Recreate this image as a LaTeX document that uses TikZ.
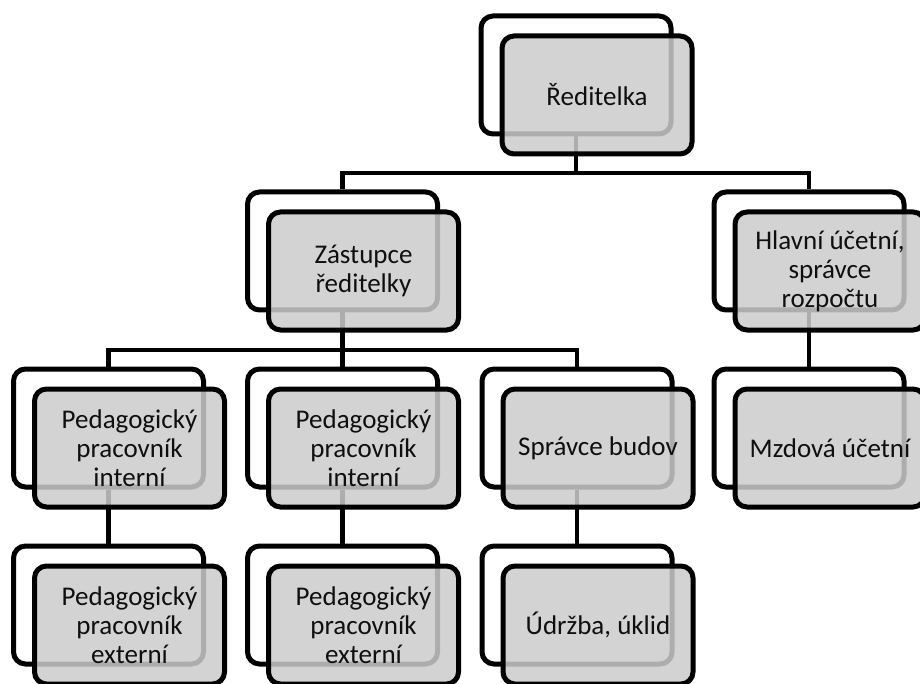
\documentclass[tikz,border=0pt]{standalone}
\usepackage{fontspec}
\setmainfont{Carlito}
\definecolor{frontfill}{RGB}{204,204,204}
\definecolor{txt}{RGB}{15,15,15}
\begin{document}
\begin{tikzpicture}[x=1pt,y=-1pt,
  back/.style={draw=black, line width=5pt, rounded corners=12pt, fill=white,
    minimum width=190pt, minimum height=118pt, inner sep=0pt},
  front/.style={draw=black, line width=5pt, rounded corners=12pt, fill=frontfill,
    fill opacity=0.85, text opacity=1, text=txt, minimum width=190pt, minimum height=118pt,
    inner sep=0pt, align=center, font=\fontsize{27}{29}\selectfont},
  conn/.style={draw=black, line width=4.8pt}]
\clip (0,0) rectangle (920,684);
\fill[white] (0,0) rectangle (920,684);
% back boxes
\node[back] (b1) at (576,75) {};
\node[back] (b2) at (342.5,251) {};
\node[back] (b3) at (809,251) {};
\node[back] (b4) at (108.5,428) {};
\node[back] (b5) at (342.5,428) {};
\node[back] (b6) at (577,428) {};
\node[back] (b7) at (809,428) {};
\node[back] (b8) at (108.5,605) {};
\node[back] (b9) at (342.5,605) {};
\node[back] (b10) at (577,605) {};
% junctions
\coordinate (j1) at (576,173);
\coordinate (j2) at (342.5,350);
% connectors
\draw[conn] (b1.south) -- (j1);
\draw[conn] (b2.north) |- (j1) -| (b3.north);
\draw[conn] (b2.south) -- (j2);
\draw[conn] (b4.north) |- (j2) -| (b6.north);
\draw[conn] (j2) -- (b5.north);
\draw[conn] (b3.south) -- (b7.north);
\draw[conn] (b4.south) -- (b8.north);
\draw[conn] (b5.south) -- (b9.north);
\draw[conn] (b6.south) -- (b10.north);
% front boxes
\node[front] (f1) at (597,95) {Ředitelka};
\node[front] (f2) at (363.5,271) {Zástupce\\ředitelky};
\node[front] (f3) at (830,271) {Hlavní účetní,\\správce\\rozpočtu};
\node[front] (f4) at (129.5,448) {Pedagogický\\pracovník\\interní};
\node[front] (f5) at (363.5,448) {Pedagogický\\pracovník\\interní};
\node[front] (f6) at (598,448) {Správce budov};
\node[front] (f7) at (830,448) {Mzdová účetní};
\node[front] (f8) at (129.5,625) {Pedagogický\\pracovník\\externí};
\node[front] (f9) at (363.5,625) {Pedagogický\\pracovník\\externí};
\node[front] (f10) at (598,625) {Údržba, úklid};
\end{tikzpicture}
\end{document}
